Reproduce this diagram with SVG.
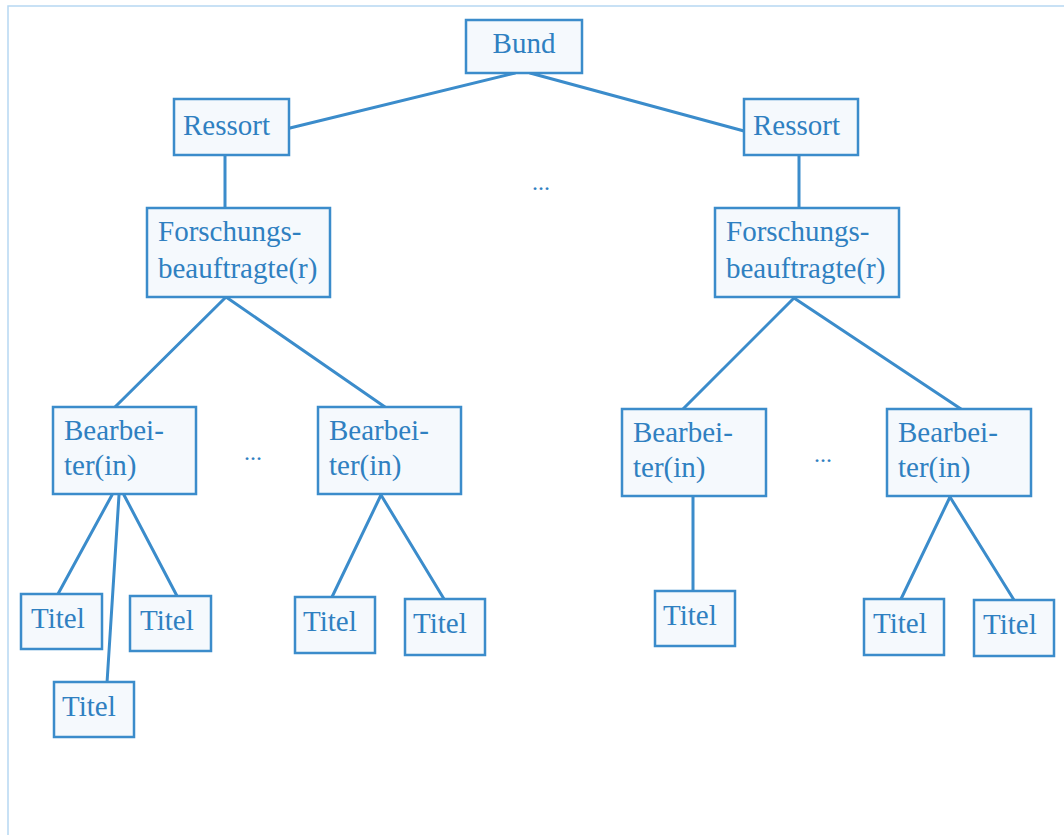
<svg xmlns="http://www.w3.org/2000/svg" width="1064" height="835" viewBox="0 0 1064 835">
  <style>
    .box { fill: #f5f9fd; stroke: #3b8ccb; stroke-width: 2.5; }
    .lbl { font-family: "Liberation Serif", "Times New Roman", serif; font-size: 29px; fill: #2f80c1; }
    .dots { font-family: "Liberation Serif", "Times New Roman", serif; font-size: 24px; fill: #2f80c1; text-anchor: middle; }
    .edge { stroke: #3b8ccb; stroke-width: 3; fill: none; stroke-linecap: round; }
    .frame { stroke: #b7d8f2; stroke-width: 1.5; fill: none; }
  </style>
  <rect width="1064" height="835" fill="#ffffff"/>
  <path class="frame" d="M8 835 V6 H1064"/>

  <!-- connectors -->
  <g id="connectors">
    <line class="edge" x1="515" y1="73" x2="290" y2="128"/>
    <line class="edge" x1="530" y1="73" x2="744" y2="131"/>
    <line class="edge" x1="225" y1="155" x2="225" y2="208"/>
    <line class="edge" x1="799" y1="155" x2="799" y2="208"/>
    <line class="edge" x1="226" y1="297" x2="115" y2="407"/>
    <line class="edge" x1="226" y1="297" x2="385" y2="407"/>
    <line class="edge" x1="794" y1="298" x2="683" y2="409"/>
    <line class="edge" x1="794" y1="298" x2="961" y2="409"/>
    <line class="edge" x1="112" y1="495" x2="58" y2="594"/>
    <line class="edge" x1="119" y1="495" x2="107" y2="683"/>
    <line class="edge" x1="124" y1="495" x2="177" y2="596"/>
    <line class="edge" x1="381" y1="495" x2="332" y2="597"/>
    <line class="edge" x1="381" y1="495" x2="444" y2="599"/>
    <line class="edge" x1="693" y1="497" x2="693" y2="591"/>
    <line class="edge" x1="950" y1="497" x2="901" y2="599"/>
    <line class="edge" x1="950" y1="497" x2="1014" y2="600"/>
  </g>

  <g id="bund">
    <rect class="box" x="466" y="20" width="116" height="53"/>
    <text class="lbl" x="524" y="53" text-anchor="middle">Bund</text>
  </g>

  <g id="ressort-left">
    <rect class="box" x="174" y="99" width="115" height="56"/>
    <text class="lbl" x="183" y="135">Ressort</text>
  </g>
  <g id="ressort-right">
    <rect class="box" x="744" y="99" width="114" height="56"/>
    <text class="lbl" x="753" y="135">Ressort</text>
  </g>

  <text class="dots" x="541" y="190">...</text>

  <g id="forschung-left">
    <rect class="box" x="147" y="208" width="183" height="89"/>
    <text class="lbl" x="158" y="241">Forschungs-</text>
    <text class="lbl" x="158" y="278">beauftragte(r)</text>
  </g>
  <g id="forschung-right">
    <rect class="box" x="715" y="208" width="184" height="89"/>
    <text class="lbl" x="726" y="241">Forschungs-</text>
    <text class="lbl" x="726" y="278">beauftragte(r)</text>
  </g>

  <g id="bearbeiter-l1">
    <rect class="box" x="53" y="407" width="143" height="87"/>
    <text class="lbl" x="64" y="440">Bearbei-</text>
    <text class="lbl" x="64" y="475">ter(in)</text>
  </g>
  <text class="dots" x="253" y="460">...</text>
  <g id="bearbeiter-l2">
    <rect class="box" x="318" y="407" width="143" height="87"/>
    <text class="lbl" x="329" y="440">Bearbei-</text>
    <text class="lbl" x="329" y="475">ter(in)</text>
  </g>
  <g id="bearbeiter-r1">
    <rect class="box" x="622" y="409" width="144" height="87"/>
    <text class="lbl" x="633" y="442">Bearbei-</text>
    <text class="lbl" x="633" y="477">ter(in)</text>
  </g>
  <text class="dots" x="823" y="462">...</text>
  <g id="bearbeiter-r2">
    <rect class="box" x="887" y="409" width="144" height="87"/>
    <text class="lbl" x="898" y="442">Bearbei-</text>
    <text class="lbl" x="898" y="477">ter(in)</text>
  </g>

  <g id="titel-l1a">
    <rect class="box" x="21" y="594" width="81" height="55"/>
    <text class="lbl" x="31" y="628">Titel</text>
  </g>
  <g id="titel-l1b">
    <rect class="box" x="130" y="596" width="81" height="55"/>
    <text class="lbl" x="140" y="630">Titel</text>
  </g>
  <g id="titel-l1c">
    <rect class="box" x="54" y="682" width="80" height="55"/>
    <text class="lbl" x="62" y="716">Titel</text>
  </g>
  <g id="titel-l2a">
    <rect class="box" x="295" y="597" width="80" height="56"/>
    <text class="lbl" x="303" y="631">Titel</text>
  </g>
  <g id="titel-l2b">
    <rect class="box" x="405" y="599" width="80" height="56"/>
    <text class="lbl" x="413" y="633">Titel</text>
  </g>
  <g id="titel-r1a">
    <rect class="box" x="655" y="591" width="80" height="55"/>
    <text class="lbl" x="663" y="625">Titel</text>
  </g>
  <g id="titel-r2a">
    <rect class="box" x="864" y="599" width="80" height="56"/>
    <text class="lbl" x="873" y="633">Titel</text>
  </g>
  <g id="titel-r2b">
    <rect class="box" x="974" y="600" width="80" height="56"/>
    <text class="lbl" x="983" y="634">Titel</text>
  </g>
</svg>
